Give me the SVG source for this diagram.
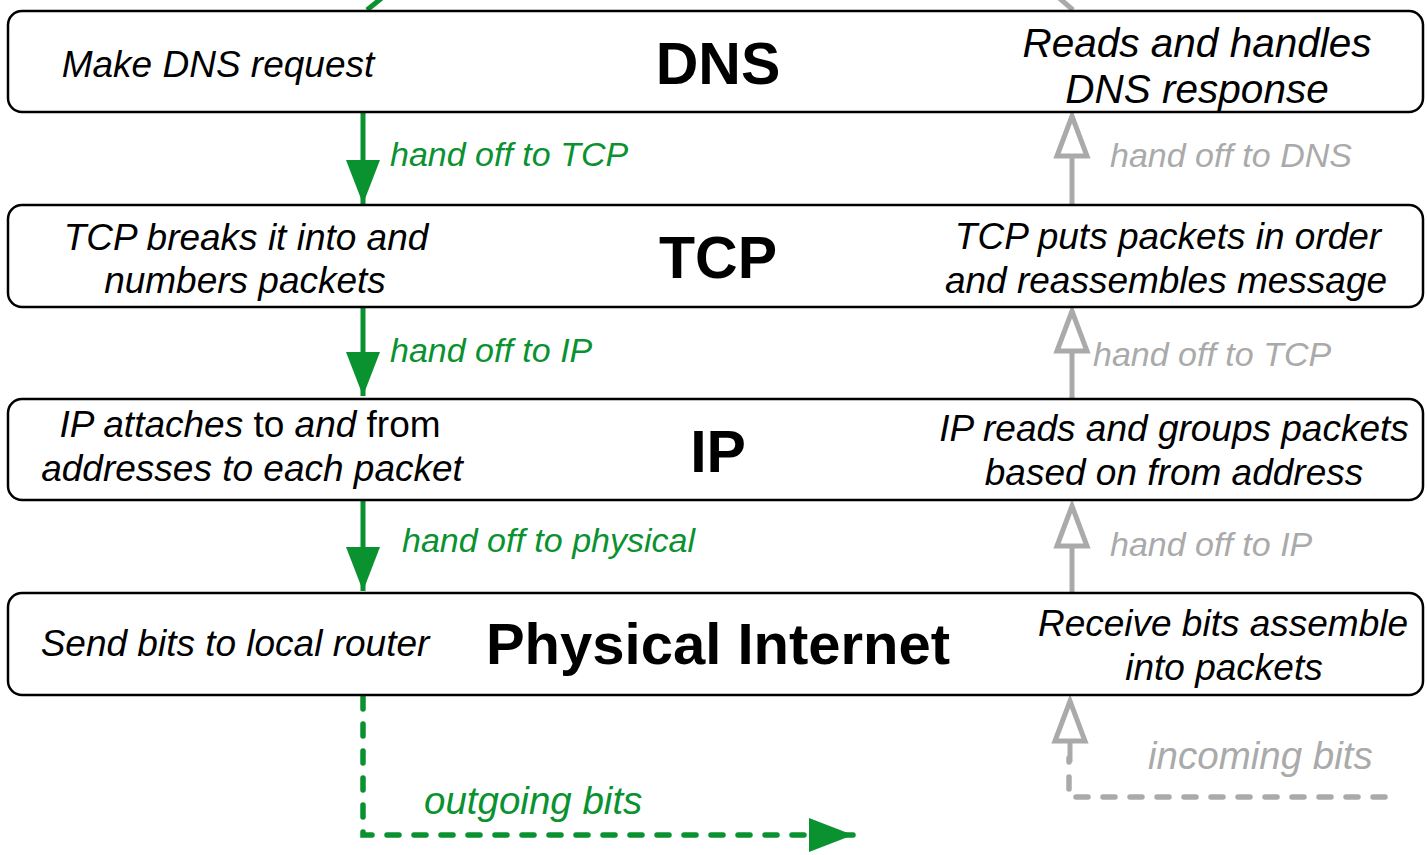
<svg xmlns="http://www.w3.org/2000/svg" width="1427" height="855" viewBox="0 0 1427 855">
<style>
.box{fill:#fff;stroke:#000;stroke-width:2.5}
.t{font-family:"Liberation Sans",Arial,sans-serif;font-size:37px;font-style:italic;fill:#000;text-anchor:middle}
.n{font-style:normal}
.lg{font-size:40.5px}
.title{font-family:"Liberation Sans",Arial,sans-serif;font-size:59px;font-weight:bold;fill:#000;text-anchor:middle}
.gl{font-family:"Liberation Sans",Arial,sans-serif;font-size:34px;font-style:italic;fill:#0a9130}
.yl{font-family:"Liberation Sans",Arial,sans-serif;font-size:34px;font-style:italic;fill:#aaaaaa}
.big{font-size:38.5px}
.g{fill:none;stroke:#0a9130;stroke-width:5}
.y{fill:none;stroke:#aaaaaa;stroke-width:5}
.dash{stroke-width:5.5;stroke-dasharray:12 15;stroke-linecap:round}
</style>
<defs>
<marker id="gh" markerUnits="userSpaceOnUse" viewBox="0 0 44 34" markerWidth="44" markerHeight="34" refX="44" refY="17" orient="auto">
<path d="M0,0 L44,17 L0,34 Z" fill="#0a9130"/>
</marker>
<marker id="yh" markerUnits="userSpaceOnUse" viewBox="0 0 50 40" markerWidth="50" markerHeight="40" refX="45" refY="20" orient="auto" overflow="visible">
<path d="M5,5 L45,20 L5,35 Z" fill="#fff" stroke="#aaaaaa" stroke-width="5" stroke-linejoin="miter"/>
</marker>
</defs>
<g id="connectors">
<path class="g" d="M383,-3 L367,10"/>
<path class="y" d="M1058,-3 L1073,10"/>
<path class="g" d="M363,112 L363,204" marker-end="url(#gh)"/>
<path class="g" d="M363,307 L363,396" marker-end="url(#gh)"/>
<path class="g" d="M363,500 L363,591" marker-end="url(#gh)"/>
<path class="g dash" d="M363,697 L363,835 L853,835" marker-end="url(#gh)"/>
<path class="y" d="M1072,205 L1072,116" marker-end="url(#yh)"/>
<path class="y" d="M1072,399 L1072,311" marker-end="url(#yh)"/>
<path class="y" d="M1072,593 L1072,506" marker-end="url(#yh)"/>
<path class="y dash" d="M1385,797 L1069,797 L1069,758"/>
<path class="y" d="M1070,762 L1070,701" marker-end="url(#yh)"/>
<text class="gl" x="390" y="166">hand off to TCP</text>
<text class="gl" x="390" y="362">hand off to IP</text>
<text class="gl" x="402" y="552">hand off to physical</text>
<text class="gl big" x="424" y="814">outgoing bits</text>
<text class="yl" x="1110" y="167">hand off to DNS</text>
<text class="yl" x="1093" y="366">hand off to TCP</text>
<text class="yl" x="1110" y="556">hand off to IP</text>
<text class="yl big" x="1148" y="769">incoming bits</text>
</g>
<g id="dns">
<rect class="box" x="8" y="11" width="1415" height="101" rx="14"/>
<text class="t" x="218" y="77">Make DNS request</text>
<text class="title" x="718" y="84">DNS</text>
<text class="t lg" x="1197" y="57">Reads and handles</text>
<text class="t lg" x="1197" y="103">DNS response</text>
</g>
<g id="tcp">
<rect class="box" x="8" y="205" width="1415" height="102" rx="14"/>
<text class="t" x="246" y="250">TCP breaks it into and</text>
<text class="t" x="245" y="293">numbers packets</text>
<text class="title" x="718" y="278">TCP</text>
<text class="t" x="1168" y="249">TCP puts packets in order</text>
<text class="t" x="1166" y="293">and reassembles message</text>
</g>
<g id="ip">
<rect class="box" x="8" y="399" width="1415" height="101" rx="14"/>
<text class="t" x="250" y="437">IP attaches<tspan class="n"> to </tspan>and<tspan class="n"> from</tspan></text>
<text class="t" x="252" y="481">addresses to each packet</text>
<text class="title" x="718" y="472">IP</text>
<text class="t" x="1174" y="441">IP reads and groups packets</text>
<text class="t" x="1174" y="485">based on from address</text>
</g>
<g id="physical">
<rect class="box" x="8" y="593" width="1415" height="102" rx="14"/>
<text class="t" x="235" y="656">Send bits to local router</text>
<text class="title" x="718" y="664" style="font-size:58px">Physical Internet</text>
<text class="t" x="1223" y="636">Receive bits assemble</text>
<text class="t" x="1224" y="680">into packets</text>
</g>
</svg>
